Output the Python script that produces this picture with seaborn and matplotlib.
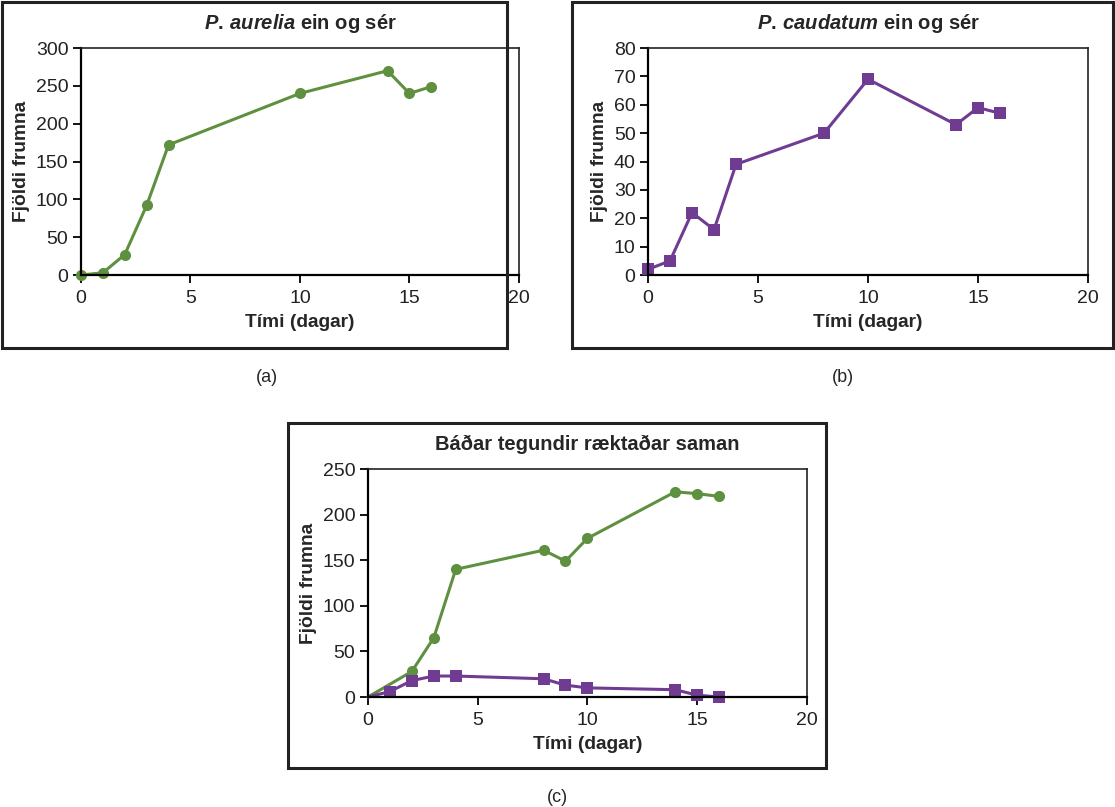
import numpy as np
import pandas as pd
import matplotlib
matplotlib.use("Agg")
import matplotlib.pyplot as plt
import seaborn as sns
from matplotlib.patches import Rectangle

# (a) P. aurelia alone
days_a = [0, 1, 2, 3, 4, 10, 14, 15, 16]
aurelia_a = [0, 3, 27, 92, 172, 240, 270, 240, 249]

# (b) P. caudatum alone
days_b = [0, 1, 2, 3, 4, 8, 10, 14, 15, 16]
caudatum_b = [2, 5, 22, 16, 39, 50, 69, 53, 59, 57]

# (c) both species grown together
days_c_aur = [0, 2, 3, 4, 8, 9, 10, 14, 15, 16]
aurelia_c = [0, 28, 65, 140, 161, 149, 174, 225, 223, 220]
days_c_cau = [0, 1, 2, 3, 4, 8, 9, 10, 14, 15, 16]
caudatum_c = [0, 6, 18, 23, 23, 20, 13, 10, 8, 2, 0]

x_ticks = [0, 5, 10, 15, 20]
x_label = "Tími (dagar)"
y_label = "Fjöldi frumna"

GREEN = "#5f9040"
PURPLE = "#6f3c92"

sns.set_theme(style="ticks")
plt.rcParams["font.family"] = ["Liberation Sans", "DejaVu Sans"]
plt.rcParams["mathtext.fontset"] = "custom"
plt.rcParams["mathtext.it"] = "Liberation Sans:bold:italic"
plt.rcParams["mathtext.rm"] = "Liberation Sans:bold"

fig = plt.figure(figsize=(11.15, 8.07), dpi=100)

TICK_FS = 14
LABEL_FS = 13.8
TITLE_FS = 14.5


def frame(x0, y0, x1, y1):
    W, H = 1115, 807
    fig.patches.append(Rectangle((x0 / W, 1 - y1 / H), (x1 - x0) / W, (y1 - y0) / H,
                                 transform=fig.transFigure, fill=False,
                                 edgecolor="#222222", linewidth=2.2))


def style_axes(ax, ymax, ystep):
    ax.set_xlim(0, 20)
    ax.set_ylim(0, ymax)
    ax.set_xticks(x_ticks)
    ax.set_yticks(np.arange(0, ymax + 1, ystep))
    ax.tick_params(axis="both", labelsize=TICK_FS, length=6, width=1.3,
                   colors="black", labelcolor="#222222", pad=3)
    ax.tick_params(axis="x", pad=5)
    for s in ["left", "bottom"]:
        ax.spines[s].set_linewidth(1.6)
        ax.spines[s].set_color("black")
    for s in ["top", "right"]:
        ax.spines[s].set_linewidth(1.2)
        ax.spines[s].set_color("#222222")
    ax.set_xlabel(x_label, fontsize=LABEL_FS, fontweight="bold", labelpad=5)
    ax.set_ylabel(y_label, fontsize=LABEL_FS, fontweight="bold", labelpad=4)


line_kw = dict(linewidth=2.2, markersize=8, markeredgewidth=0)

# panel (a)
ax_a = fig.add_axes([0.0726, 0.6592, 0.3928, 0.2813])
sns.lineplot(x=days_a, y=aurelia_a, color=GREEN, marker="o", ax=ax_a, **line_kw)
style_axes(ax_a, 300, 50)
ax_a.set_title(r"$\it{P.\,aurelia}$ ein og sér", fontsize=TITLE_FS,
               fontweight="bold", pad=14)
frame(2, 2, 507, 348)
fig.text(267 / 1115, 1 - 377 / 807, "(a)", ha="center", va="center", fontsize=13)

# panel (b)
ax_b = fig.add_axes([0.5812, 0.6592, 0.3946, 0.2813])
sns.lineplot(x=days_b, y=caudatum_b, color=PURPLE, marker="s", ax=ax_b, **line_kw)
style_axes(ax_b, 80, 10)
ax_b.set_title(r"$\it{P.\,caudatum}$ ein og sér", fontsize=TITLE_FS,
               fontweight="bold", pad=14)
frame(572, 2, 1113, 348)
fig.text(843 / 1115, 1 - 377 / 807, "(b)", ha="center", va="center", fontsize=13)

# panel (c)
ax_c = fig.add_axes([0.3300, 0.1363, 0.3937, 0.2825])
sns.lineplot(x=days_c_aur, y=aurelia_c, color=GREEN, marker="o", ax=ax_c,
             markevery=list(range(1, len(days_c_aur))), **line_kw)
sns.lineplot(x=days_c_cau, y=caudatum_c, color=PURPLE, marker="s", ax=ax_c,
             markevery=list(range(1, len(days_c_cau))), **line_kw)
style_axes(ax_c, 250, 50)
ax_c.set_title("Báðar tegundir ræktaðar saman", fontsize=TITLE_FS,
               fontweight="bold", pad=14)
frame(288, 423, 826, 768)
fig.text(557 / 1115, 1 - 797 / 807, "(c)", ha="center", va="center", fontsize=13)

for ax in (ax_a, ax_b, ax_c):
    for ln in ax.lines:
        ln.set_clip_on(False)

fig.savefig("out.png", dpi=100)
